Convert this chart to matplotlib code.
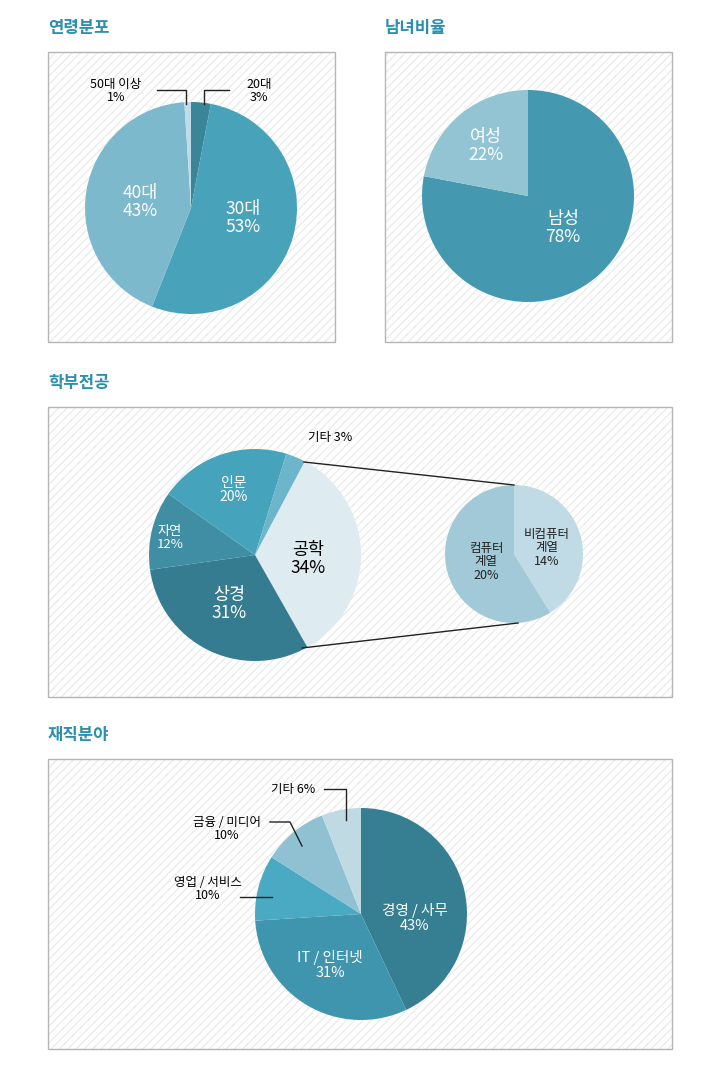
import matplotlib
matplotlib.use("Agg")
import matplotlib.pyplot as plt
from matplotlib.patches import Rectangle

plt.rcParams["font.family"] = "Noto Sans CJK KR"

W, H = 723, 1077
TITLE = "#2a8fb0"

# data
age_labels = ["20대", "30대", "40대", "50대 이상"]
age_values = [3, 53, 43, 1]
age_colors = ["#3a8597", "#48a2b9", "#7db9cd", "#c0dbe5"]

sex_labels = ["남성", "여성"]
sex_values = [78, 22]
sex_colors = ["#4499b1", "#92c4d4"]

major_labels = ["공학", "상경", "자연", "인문", "기타"]
major_values = [34, 31, 12, 20, 3]
major_colors = ["#deebf1", "#367c90", "#3f8ea4", "#46a3bc", "#6cb5ca"]

eng_labels = ["비컴퓨터\n계열", "컴퓨터\n계열"]
eng_values = [14, 20]
eng_colors = ["#c0dbe5", "#a2c9d8"]

job_labels = ["경영 / 사무", "IT / 인터넷", "영업 / 서비스", "금융 / 미디어", "기타"]
job_values = [43, 31, 10, 10, 6]
job_colors = ["#367f92", "#3f95ad", "#4aaac4", "#8fc1d3", "#bfdae3"]


def Y(py):
    return H - py


fig = plt.figure(figsize=(W / 100, H / 100), dpi=100)
ax = fig.add_axes([0, 0, 1, 1])
ax.set_xlim(0, W); ax.set_ylim(0, H); ax.axis("off"); ax.set_aspect("equal")


def panel(x0, y0, x1, y1, title):
    ax.add_patch(Rectangle((x0, Y(y1)), x1 - x0, y1 - y0, facecolor="white",
                           edgecolor="#ececec", hatch="////", lw=0, zorder=0))
    ax.add_patch(Rectangle((x0, Y(y1)), x1 - x0, y1 - y0, facecolor="none",
                           edgecolor="#b5b5b5", lw=1, zorder=1))
    ax.text(x0, Y(y0 - 24), title, color=TITLE, fontsize=12, fontweight="bold",
            ha="left", va="center")


def txt(x, y, s, color="black", size=9, weight="normal"):
    ax.text(x, Y(y), s, color=color, fontsize=size, fontweight=weight,
            ha="center", va="center", linespacing=1.05, zorder=5)


def leader(pts):
    ax.plot([p[0] for p in pts], [Y(p[1]) for p in pts], color="#222222", lw=1, zorder=4)


def pie(vals, colors, cx, cy, r, start):
    ax.pie(vals, colors=colors, center=(cx, Y(cy)), radius=r, startangle=start,
           counterclock=False, wedgeprops=dict(lw=0), frame=True)


# 연령분포
panel(48, 52, 335, 342, "연령분포")
pie(age_values, age_colors, 191, 208, 106, 90)
txt(140, 202, "40대\n43%", "white", 12.5)
txt(243, 218, "30대\n53%", "white", 12.5)
txt(116, 91, "50대 이상\n1%")
txt(259, 91, "20대\n3%")
leader([(157, 90), (186, 90), (186, 104)])
leader([(229, 90), (204, 90), (204, 104)])

# 남녀비율
panel(385, 52, 672, 342, "남녀비율")
pie(sex_values, sex_colors, 528, 196, 106, 90)
txt(486, 146, "여성\n22%", "white", 12.5)
txt(563, 228, "남성\n78%", "white", 12.5)

# 학부전공
panel(48, 407, 672, 697, "학부전공")
pie(major_values, major_colors, 255, 555, 106, 62)
pie(eng_values, eng_colors, 514, 554, 69, 90)
leader([(304, 462), (514, 485)])
leader([(302, 648), (518, 623)])
txt(330, 438, "기타 3%")
txt(234, 490, "인문\n20%", "white", 10)
txt(170, 538, "자연\n12%", "white", 9.5)
txt(308, 559, "공학\n34%", "black", 12.5)
txt(229, 604, "상경\n31%", "white", 12.5)
txt(486, 562, "컴퓨터\n계열\n20%", "#222222", 9)
txt(547, 548, "비컴퓨터\n계열\n14%", "#222222", 9)

# 재직분야
panel(48, 759, 672, 1049, "재직분야")
pie(job_values, job_colors, 361, 914, 106, 90)
txt(415, 918, "경영 / 사무\n43%", "white", 10.5)
txt(330, 965, "IT / 인터넷\n31%", "white", 10.5)
txt(208, 889, "영업 / 서비스\n10%")
txt(227, 829, "금융 / 미디어\n10%")
txt(293, 789, "기타 6%")
leader([(240, 897), (272, 897)])
leader([(270, 822), (290, 822), (302, 846)])
leader([(324, 789), (346, 789), (346, 820)])

ax.set_xlim(0, W); ax.set_ylim(0, H); ax.axis("off")
fig.savefig("out.png", dpi=100)
